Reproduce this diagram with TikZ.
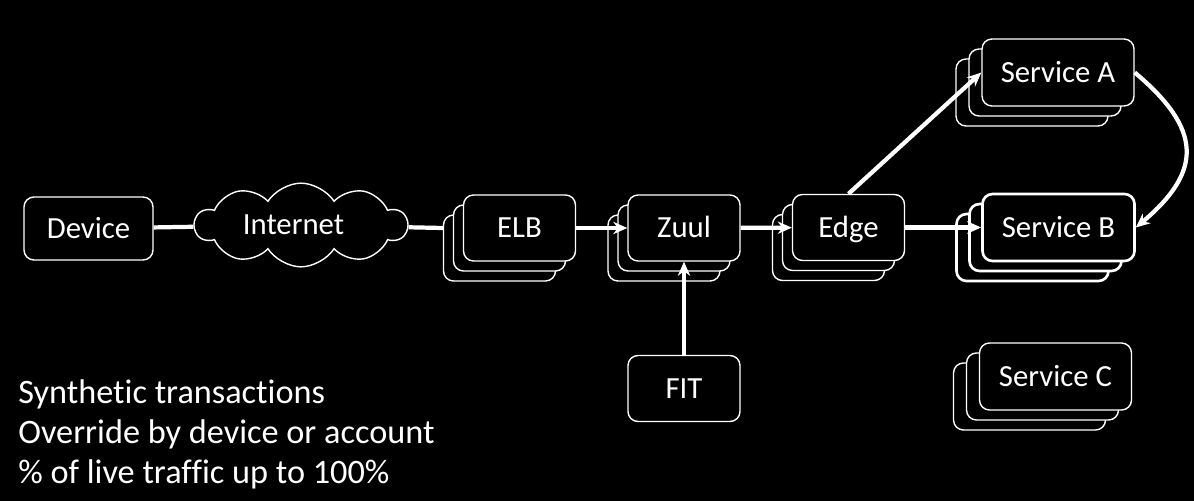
\documentclass[tikz,border=0pt]{standalone}
\usepackage{fontspec}
\setmainfont{Carlito}[Ligatures=NoCommon]
\usepackage{tikz}
\usetikzlibrary{shapes,shadows,arrows.meta,positioning,calc}

\tikzset{
  box/.style={draw=white, fill=black, line width=0.8pt, rounded corners=0.2cm, text=white,
    minimum width=2.24cm, minimum height=1.32cm, font=\fontsize{17.5}{20}\selectfont,
    text height=11.3pt, text depth=0pt},
  stack/.style={box, double copy shadow={shadow xshift=#1, shadow yshift=-0.2cm,
    draw=white, fill=black, opacity=1}},
  stack/.default=-0.2cm,
  link/.style={white, line width=2.4pt},
  flow/.style={link, -{Stealth[length=8pt, width=7pt]}},
}

\begin{document}
\begin{tikzpicture}
    \useasboundingbox (0,0) rectangle (23.88,-10.02);
    \fill[black] (0,0) rectangle (23.88,-10.02);

    % Client side
    \node[box, minimum width=2.58cm, minimum height=1.26cm] (device) at (1.77,-4.57) {Device};
    \node[cloud, cloud puffs=10, cloud puff arc=115, aspect=2.8, draw=white, fill=black,
      line width=0.8pt, text=white, minimum width=4.24cm, minimum height=1.56cm,
      inner sep=0pt, font=\fontsize{17.5}{20}\selectfont, text height=11.3pt, text depth=0pt]
      (internet) at (6.02,-4.5) {Internet\hspace*{0.3cm}};

    % Edge tier
    \node[stack] (elb) at (10.39,-4.56) {ELB};
    \node[stack] (zuul) at (13.68,-4.56) {Zuul};
    \node[stack] (edge) at (16.97,-4.55) {Edge};
    \node[box] (fit) at (13.68,-7.77) {FIT};

    % Middle tier
    \node[stack=-0.26cm, minimum width=3.04cm, minimum height=1.34cm] (sa) at (21.16,-1.45) {Service A};
    \node[stack=-0.26cm, minimum width=3.04cm, minimum height=1.34cm, line width=1.5pt] (sb) at (21.17,-4.55) {Service B};
    \node[stack=-0.26cm, minimum width=3.04cm, minimum height=1.34cm] (sc) at (21.11,-7.53) {Service C};

    % Connections
    \draw[link] (device) -- (internet);
    \draw[link] (internet) -- ($(elb.west)+(-0.4,0)$);
    \draw[flow] (elb) -- (zuul);
    \draw[flow] (zuul) -- (edge);
    \draw[flow] (fit) -- (zuul);
    \draw[flow] (edge.north) -- (sa.west);
    \draw[flow, line width=3.2pt] (edge) -- (sb);
    \draw[flow] (sa.east) to[out=-40, in=40, looseness=1.45] (sb.east);

    % Notes
    \node[anchor=north west, align=left, text=white, inner sep=0pt,
      font=\fontsize{19.5}{23}\selectfont] (notes) at (0.36,-7.58)
      {Synthetic transactions\\Override by device or account\\\% of live traffic up to 100\%};
\end{tikzpicture}
\end{document}
